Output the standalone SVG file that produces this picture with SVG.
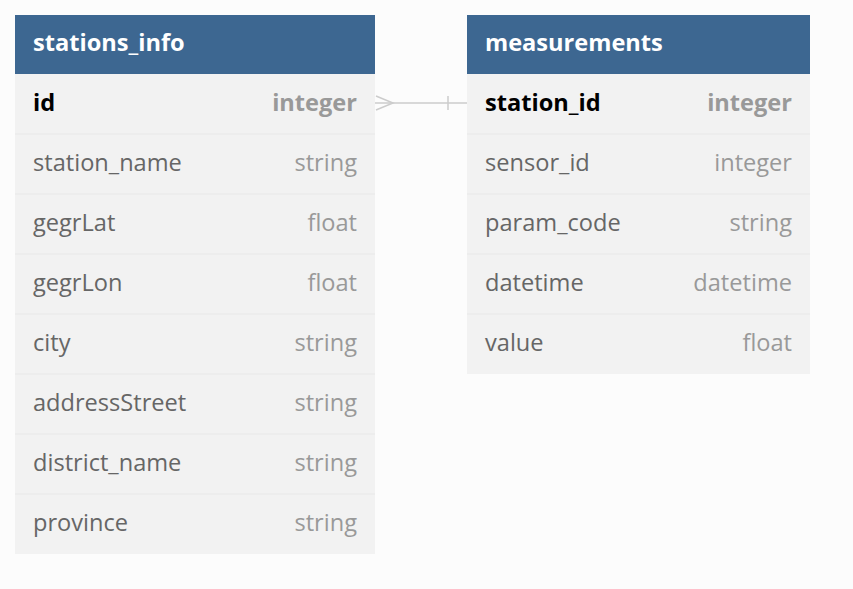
<svg xmlns="http://www.w3.org/2000/svg" width="853" height="589" viewBox="0 0 853 589">
<style>
.hdr{fill:#3d6791}
.body{fill:#f2f2f2}
.sep{stroke:#e8e8e8;stroke-width:1}
.title{font-family:"Open Sans",sans-serif;font-size:23.6px;font-weight:bold;fill:#ffffff}
.f{font-family:"Open Sans",sans-serif;font-size:23.6px;fill:#666666}
.pk{font-family:"Open Sans",sans-serif;font-size:23.6px;font-weight:bold;fill:#000000}
.t{font-family:"Open Sans",sans-serif;font-size:23.6px;fill:#999999;text-anchor:end}
.tb{font-family:"Open Sans",sans-serif;font-size:23.6px;font-weight:bold;fill:#999999;text-anchor:end}
.conn{stroke:#cccccc;stroke-width:1.5;fill:none}
</style>
<rect width="853" height="589" fill="#fcfcfc"/>
<g id="stations_info">
<rect class="body" x="15" y="74" width="360" height="480"/>
<rect class="hdr" x="15" y="15" width="360" height="59"/>
<text class="title" x="33" y="51">stations_info</text>
<line class="sep" x1="15" y1="134" x2="375" y2="134"/>
<line class="sep" x1="15" y1="194" x2="375" y2="194"/>
<line class="sep" x1="15" y1="254" x2="375" y2="254"/>
<line class="sep" x1="15" y1="314" x2="375" y2="314"/>
<line class="sep" x1="15" y1="374" x2="375" y2="374"/>
<line class="sep" x1="15" y1="434" x2="375" y2="434"/>
<line class="sep" x1="15" y1="494" x2="375" y2="494"/>
<text class="pk" x="33" y="111">id</text><text class="tb" x="357" y="111">integer</text>
<text class="f" x="33" y="171">station_name</text><text class="t" x="357" y="171">string</text>
<text class="f" x="33" y="231">gegrLat</text><text class="t" x="357" y="231">float</text>
<text class="f" x="33" y="291">gegrLon</text><text class="t" x="357" y="291">float</text>
<text class="f" x="33" y="351">city</text><text class="t" x="357" y="351">string</text>
<text class="f" x="33" y="411">addressStreet</text><text class="t" x="357" y="411">string</text>
<text class="f" x="33" y="471">district_name</text><text class="t" x="357" y="471">string</text>
<text class="f" x="33" y="531">province</text><text class="t" x="357" y="531">string</text>
</g>
<g id="measurements">
<rect class="body" x="467" y="74" width="343" height="300"/>
<rect class="hdr" x="467" y="15" width="343" height="59"/>
<text class="title" x="485" y="51">measurements</text>
<line class="sep" x1="467" y1="134" x2="810" y2="134"/>
<line class="sep" x1="467" y1="194" x2="810" y2="194"/>
<line class="sep" x1="467" y1="254" x2="810" y2="254"/>
<line class="sep" x1="467" y1="314" x2="810" y2="314"/>
<text class="pk" x="485" y="111">station_id</text><text class="tb" x="792" y="111">integer</text>
<text class="f" x="485" y="171">sensor_id</text><text class="t" x="792" y="171">integer</text>
<text class="f" x="485" y="231">param_code</text><text class="t" x="792" y="231">string</text>
<text class="f" x="485" y="291">datetime</text><text class="t" x="792" y="291">datetime</text>
<text class="f" x="485" y="351">value</text><text class="t" x="792" y="351">float</text>
</g>
<g id="connectors">
<line class="conn" x1="375" y1="103" x2="467" y2="103"/>
<polyline class="conn" points="376,96 393,103 376,110"/>
<line class="conn" x1="448" y1="96" x2="448" y2="110"/>
</g>
</svg>
